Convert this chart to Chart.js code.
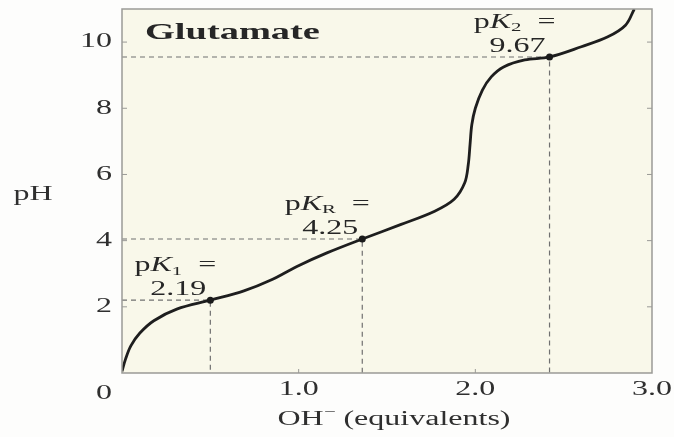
<!DOCTYPE html>
<html>
<head>
<meta charset="utf-8">
<script src="https://cdn.jsdelivr.net/npm/chart.js@4/dist/chart.umd.min.js"></script>
<style>
	html, body { margin: 0; padding: 0; background: #fdfdfc; }
	#box { width: 674px; height: 437px; }
</style>
</head>
<body>
<div id="box"><canvas id="titration"></canvas></div>
<script>
// titration curve (OH- equivalents vs pH)
const curveX = [0, 0.02, 0.05, 0.10, 0.18, 0.31, 0.50, 0.69, 0.84, 0.99, 1.16, 1.36, 1.58, 1.77, 1.88, 1.94, 1.96, 1.97, 1.98, 2.00, 2.04, 2.09, 2.16, 2.28, 2.42, 2.60, 2.75, 2.85, 2.90];
const curveY = [0.05, 0.42, 0.82, 1.20, 1.58, 1.93, 2.20, 2.48, 2.80, 3.22, 3.63, 4.05, 4.49, 4.89, 5.25, 5.75, 6.30, 6.90, 7.50, 8.00, 8.55, 8.95, 9.25, 9.46, 9.55, 9.86, 10.16, 10.51, 11.0];

// the three marked pK points
const pkSubs = ['1', 'R', '2'];
const pkValues = ['2.19', '4.25', '9.67'];
const pkX = [0.50, 1.36, 2.42];
const pkY = [2.20, 4.05, 9.55];

const phTicks = [0, 2, 4, 6, 8, 10];
const ohTicks = [1.0, 2.0, 3.0];
const ohTickLabels = ['1.0', '2.0', '3.0'];

const SX = 1.6;   // the scan is stretched sideways
const serif = '"Liberation Serif", "DejaVu Serif", serif';
const ink = '#2f2f2f';

function richText(ctx, parts, x, y, align) {
	ctx.save();
	ctx.textBaseline = 'middle';
	ctx.textAlign = 'left';
	let total = 0;
	parts.forEach(p => { ctx.font = p.f; total += ctx.measureText(p.t).width * SX; });
	let left = align === 'center' ? x - total / 2 : align === 'right' ? x - total : x;
	parts.forEach(p => {
		ctx.font = p.f;
		ctx.save();
		ctx.translate(left, y + (p.dy || 0));
		ctx.scale(SX, 1);
		ctx.fillText(p.t, 0, 0);
		ctx.restore();
		left += ctx.measureText(p.t).width * SX;
	});
	ctx.restore();
}

const reg = '20px ' + serif;
const ital = 'italic 20px ' + serif;
const small = '13px ' + serif;

const framePlugin = {
	id: 'frame',
	beforeDraw(chart) {
		const { ctx, chartArea: a } = chart;
		ctx.save();
		ctx.fillStyle = '#fdfdfc';
		ctx.fillRect(0, 0, chart.width, chart.height);
		ctx.fillStyle = '#f9f8ea';
		ctx.fillRect(a.left, a.top, a.right - a.left, a.bottom - a.top);
		ctx.restore();
	},
	afterDatasetsDraw(chart) {
		const { ctx, chartArea: a, scales } = chart;
		ctx.save();
		ctx.strokeStyle = '#9a9a96';
		ctx.lineWidth = 1.5;
		ctx.strokeRect(a.left, a.top, a.right - a.left, a.bottom - a.top);
		ctx.lineWidth = 1;
		ctx.beginPath();
		phTicks.slice(1).forEach(v => {
			const py = scales.y.getPixelForValue(v);
			ctx.moveTo(a.left, py); ctx.lineTo(a.left + 5, py);
			ctx.moveTo(a.right, py); ctx.lineTo(a.right - 5, py);
		});
		ohTicks.slice(0, 2).forEach(v => {
			const px = scales.x.getPixelForValue(v);
			ctx.moveTo(px, a.bottom); ctx.lineTo(px, a.bottom - 4);
		});
		ctx.stroke();
		ctx.restore();
	},
	afterDraw(chart) {
		const { ctx, chartArea: a, scales } = chart;
		ctx.save();
		ctx.fillStyle = ink;
		phTicks.forEach(v => {
			const py = v === 0 ? a.bottom + 21 : scales.y.getPixelForValue(v);
			richText(ctx, [{ t: String(v), f: reg }], 112, py, 'right');
		});
		ohTicks.forEach((v, i) => {
			richText(ctx, [{ t: ohTickLabels[i], f: reg }], scales.x.getPixelForValue(v), a.bottom + 17, 'center');
		});
		richText(ctx, [{ t: 'pH', f: reg }], 33, 195, 'center');
		richText(ctx, [{ t: 'OH', f: reg }, { t: '\u2212', f: small, dy: -7 }, { t: ' (equivalents)', f: reg }], 394, 420, 'center');
		ctx.fillStyle = '#262626';
		richText(ctx, [{ t: 'Glutamate', f: 'bold 24px ' + serif }], 145, 33, 'left');
		pkValues.forEach((val, i) => {
			const px = scales.x.getPixelForValue(pkX[i]);
			const py = scales.y.getPixelForValue(pkY[i]);
			richText(ctx, [
				{ t: 'p', f: reg },
				{ t: 'K', f: ital },
				{ t: pkSubs[i], f: small, dy: 5 },
				{ t: '  =', f: reg }
			], px - 35, py - 34, 'center');
			richText(ctx, [{ t: val, f: reg }], px - 32, py - 10, 'center');
		});
		ctx.restore();
	}
};

const guideSets = pkX.map((x, i) => ({
	data: [{ x: 0, y: pkY[i] }, { x: x, y: pkY[i] }, { x: x, y: 0 }],
	borderColor: '#707070',
	borderWidth: 1.2,
	borderDash: [5, 4],
	pointRadius: 0,
	tension: 0,
	order: 3
}));

new Chart(document.getElementById('titration').getContext('2d'), {
	type: 'line',
	data: {
		datasets: [
			{
				data: pkX.map((x, i) => ({ x: x, y: pkY[i] })),
				showLine: false,
				pointRadius: 3.5,
				pointBackgroundColor: '#1a1a1a',
				pointBorderWidth: 0,
				order: 0
			},
			{
				data: curveX.map((x, i) => ({ x: x, y: curveY[i] })),
				borderColor: '#1e1e1e',
				borderWidth: 2.8,
				pointRadius: 0,
				tension: 0.35,
				order: 1
			},
			...guideSets
		]
	},
	options: {
		responsive: true,
		maintainAspectRatio: false,
		animation: false,
		layout: { padding: { left: 122, right: 22, top: 9, bottom: 64 } },
		plugins: { legend: { display: false }, tooltip: { enabled: false } },
		scales: {
			x: { type: 'linear', min: 0, max: 3, display: false },
			y: { type: 'linear', min: 0, max: 11, display: false }
		}
	},
	plugins: [framePlugin]
});
</script>
</body>
</html>
